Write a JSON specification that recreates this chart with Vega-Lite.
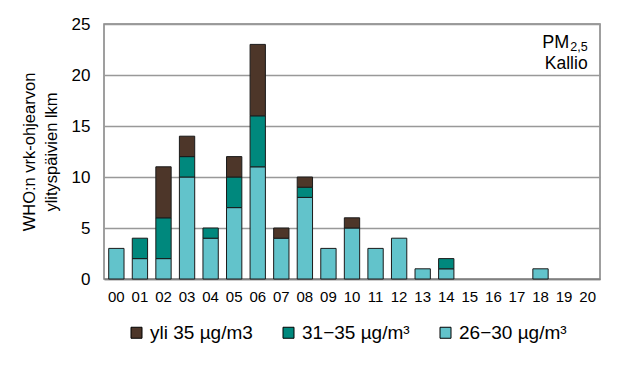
{
  "$schema": "https://vega.github.io/schema/vega-lite/v6.json",
  "autosize": {"type": "none"},
  "padding": {"left": 104, "top": 24, "right": 40, "bottom": 90},
  "width": 496,
  "height": 255,
  "config": {
    "font": "Liberation Sans",
    "view": {"stroke": "#808080", "strokeWidth": 1.5},
    "axis": {"labelColor": "#000", "titleColor": "#000", "labelFont": "Liberation Sans", "titleFont": "Liberation Sans"}
  },
  "data": {
    "values": [
      {"vuosi": "00", "luokka": "26−30 µg/m³", "jarj": 1, "paivat": 3},
      {"vuosi": "01", "luokka": "26−30 µg/m³", "jarj": 1, "paivat": 2},
      {"vuosi": "01", "luokka": "31−35 µg/m³", "jarj": 2, "paivat": 2},
      {"vuosi": "02", "luokka": "26−30 µg/m³", "jarj": 1, "paivat": 2},
      {"vuosi": "02", "luokka": "31−35 µg/m³", "jarj": 2, "paivat": 4},
      {"vuosi": "02", "luokka": "yli 35 µg/m3", "jarj": 3, "paivat": 5},
      {"vuosi": "03", "luokka": "26−30 µg/m³", "jarj": 1, "paivat": 10},
      {"vuosi": "03", "luokka": "31−35 µg/m³", "jarj": 2, "paivat": 2},
      {"vuosi": "03", "luokka": "yli 35 µg/m3", "jarj": 3, "paivat": 2},
      {"vuosi": "04", "luokka": "26−30 µg/m³", "jarj": 1, "paivat": 4},
      {"vuosi": "04", "luokka": "31−35 µg/m³", "jarj": 2, "paivat": 1},
      {"vuosi": "05", "luokka": "26−30 µg/m³", "jarj": 1, "paivat": 7},
      {"vuosi": "05", "luokka": "31−35 µg/m³", "jarj": 2, "paivat": 3},
      {"vuosi": "05", "luokka": "yli 35 µg/m3", "jarj": 3, "paivat": 2},
      {"vuosi": "06", "luokka": "26−30 µg/m³", "jarj": 1, "paivat": 11},
      {"vuosi": "06", "luokka": "31−35 µg/m³", "jarj": 2, "paivat": 5},
      {"vuosi": "06", "luokka": "yli 35 µg/m3", "jarj": 3, "paivat": 7},
      {"vuosi": "07", "luokka": "26−30 µg/m³", "jarj": 1, "paivat": 4},
      {"vuosi": "07", "luokka": "yli 35 µg/m3", "jarj": 3, "paivat": 1},
      {"vuosi": "08", "luokka": "26−30 µg/m³", "jarj": 1, "paivat": 8},
      {"vuosi": "08", "luokka": "31−35 µg/m³", "jarj": 2, "paivat": 1},
      {"vuosi": "08", "luokka": "yli 35 µg/m3", "jarj": 3, "paivat": 1},
      {"vuosi": "09", "luokka": "26−30 µg/m³", "jarj": 1, "paivat": 3},
      {"vuosi": "10", "luokka": "26−30 µg/m³", "jarj": 1, "paivat": 5},
      {"vuosi": "10", "luokka": "yli 35 µg/m3", "jarj": 3, "paivat": 1},
      {"vuosi": "11", "luokka": "26−30 µg/m³", "jarj": 1, "paivat": 3},
      {"vuosi": "12", "luokka": "26−30 µg/m³", "jarj": 1, "paivat": 4},
      {"vuosi": "13", "luokka": "26−30 µg/m³", "jarj": 1, "paivat": 1},
      {"vuosi": "14", "luokka": "26−30 µg/m³", "jarj": 1, "paivat": 1},
      {"vuosi": "14", "luokka": "31−35 µg/m³", "jarj": 2, "paivat": 1},
      {"vuosi": "18", "luokka": "26−30 µg/m³", "jarj": 1, "paivat": 1}
    ]
  },
  "encoding": {
    "x": {
      "field": "vuosi", "type": "nominal",
      "scale": {"domain": ["00","01","02","03","04","05","06","07","08","09","10","11","12","13","14","15","16","17","18","19","20"], "paddingInner": 0.35, "paddingOuter": 0.2},
      "axis": {"title": null, "labelAngle": 0, "labelFontSize": 15, "ticks": false, "labelPadding": 10, "domainColor": "#808080", "domainWidth": 1.5}
    }
  },
  "layer": [
    {
      "mark": {"type": "bar", "stroke": "#1a1a1a", "strokeWidth": 1},
      "encoding": {
        "y": {
          "field": "paivat", "type": "quantitative", "stack": "zero",
          "scale": {"domain": [0, 25], "nice": false},
          "axis": {
            "title": ["WHO:n vrk-ohjearvon", "ylityspäivien lkm"],
            "titleFontSize": 16.5, "titleFontWeight": "normal", "titleLineHeight": 22, "titlePadding": 12,
            "values": [0, 5, 10, 15, 20, 25],
            "labelFontSize": 17, "labelPadding": 14, "ticks": false,
            "domain": false,
            "gridColor": "#999999", "gridWidth": 1.5
          }
        },
        "color": {
          "field": "luokka", "type": "nominal",
          "scale": {"domain": ["yli 35 µg/m3", "31−35 µg/m³", "26−30 µg/m³"], "range": ["#4d3629", "#00887d", "#62c3cb"]},
          "legend": {
            "title": null, "orient": "none", "direction": "horizontal",
            "legendX": 23, "legendY": 299,
            "symbolType": "square", "symbolSize": 121, "symbolStrokeColor": "#000", "symbolStrokeWidth": 1,
            "labelFontSize": 19, "labelColor": "#000", "labelOffset": 4, "columnPadding": 26,
            "labelExpr": "datum.label == 'yli 35 µg/m3' ? datum.label : '\u00a0\u00a0' + datum.label"
          }
        },
        "order": {"field": "jarj", "type": "quantitative"}
      }
    },
    {
      "data": {"values": [{}]},
      "mark": {"type": "text", "align": "right", "baseline": "alphabetic", "fontSize": 17.5, "color": "#000", "font": "Liberation Sans", "dx": 0},
      "encoding": {
        "x": {"datum": "20"},
        "y": {"datum": 20.6},
        "text": {"value": "Kallio"}
      }
    },
    {
      "data": {"values": [{}]},
      "mark": {"type": "text", "align": "right", "baseline": "alphabetic", "fontSize": 18, "color": "#000", "font": "Liberation Sans", "dx": -18.5},
      "encoding": {
        "x": {"datum": "20"},
        "y": {"datum": 22.65},
        "text": {"value": "PM"}
      }
    },
    {
      "data": {"values": [{}]},
      "mark": {"type": "text", "align": "right", "baseline": "alphabetic", "fontSize": 12.5, "color": "#000", "font": "Liberation Sans", "dx": 0},
      "encoding": {
        "x": {"datum": "20"},
        "y": {"datum": 22.4},
        "text": {"value": "2,5"}
      }
    }
  ]
}
